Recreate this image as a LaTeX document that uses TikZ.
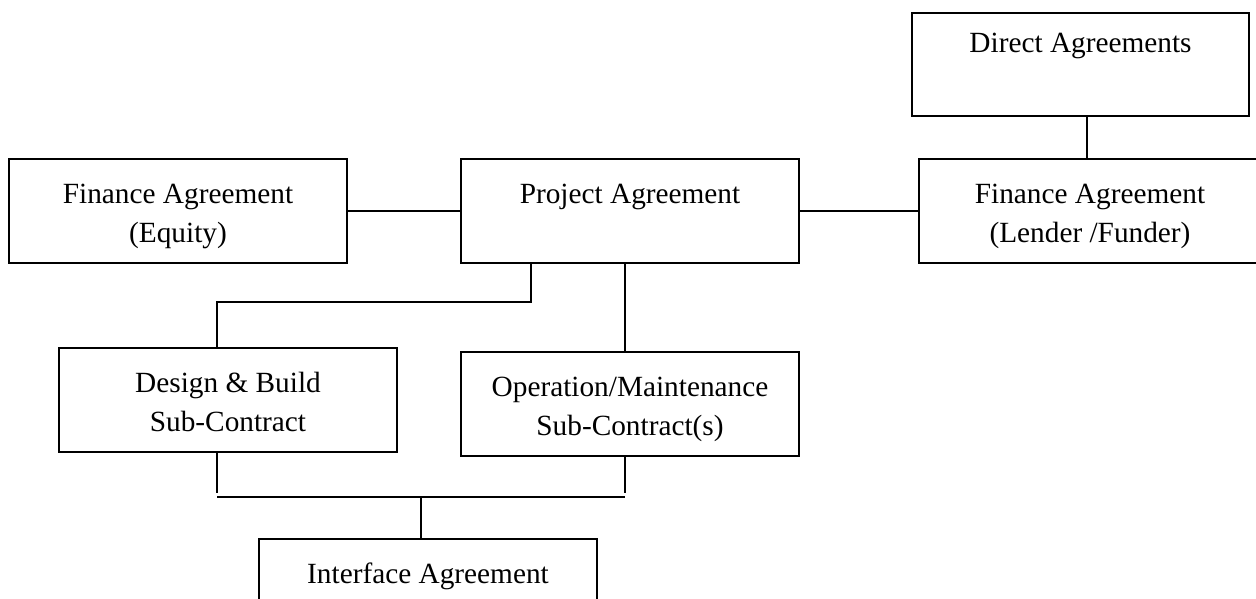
\documentclass[tikz,border=0pt]{standalone}
\usepackage{fontspec}
\setmainfont{Liberation Serif}
\begin{document}
\begin{tikzpicture}[x=1pt,y=-1pt,
  box/.style={draw, line width=1.4pt, rectangle, inner sep=0pt, align=center,
    font=\fontsize{29.3}{39}\selectfont},
  link/.style={line width=1.6pt}]
\newcommand{\lstrut}{\rule[-7.5pt]{0pt}{39pt}}
\newcommand{\dstrut}{\rule[-12pt]{0pt}{39pt}}
\useasboundingbox (0,0) rectangle (1256,599);
\clip (0,0) rectangle (1256,599);
% boxes
\node[box, minimum width=337pt, minimum height=103pt] (direct) at (1080.5,64.5)
  {\dstrut Direct Agreements\\\dstrut};
\node[box, minimum width=342pt, minimum height=104pt] (lender) at (1090,211)
  {\lstrut Finance Agreement\\\lstrut (Lender /Funder)};
\node[box, minimum width=338pt, minimum height=104pt] (equity) at (178,211)
  {\lstrut Finance Agreement\\\lstrut (Equity)};
\node[box, minimum width=338pt, minimum height=104pt] (project) at (630,211)
  {\lstrut Project Agreement\\\lstrut};
\node[box, minimum width=338pt, minimum height=104pt] (design) at (228,400)
  {\lstrut Design \& Build\\\lstrut Sub-Contract};
\node[box, minimum width=338pt, minimum height=104pt] (oper) at (630,404)
  {\lstrut Operation/Maintenance\\\lstrut Sub-Contract(s)};
\node[box, minimum width=338pt, minimum height=104pt] (iface) at (428,591)
  {\lstrut Interface Agreement\\\lstrut};
% junction coordinates
\coordinate (pd) at (531,302);
\coordinate (dx) at (217,302);
\coordinate (po) at (625,0);
\coordinate (dl) at (217,493);
\coordinate (ol) at (625,493);
\coordinate (hl) at (217,497);
\coordinate (hr) at (625,497);
\coordinate (hm) at (421,497);
\coordinate (dg) at (1087,0);
% connectors
\draw[link] (equity.east) -- (project.west);
\draw[link] (project.east) -- (lender.west);
\draw[link] (direct.south -| dg) -- (lender.north -| dg);
\draw[link] (project.south -| pd) -- (pd) -- (dx) -- (design.north -| dx);
\draw[link] (project.south -| po) -- (oper.north -| po);
\draw[link] (design.south -| dl) -- (dl);
\draw[link] (oper.south -| ol) -- (ol);
\draw[link] (hl) -- (hr);
\draw[link] (hm) -- (iface.north -| hm);
\end{tikzpicture}
\end{document}
